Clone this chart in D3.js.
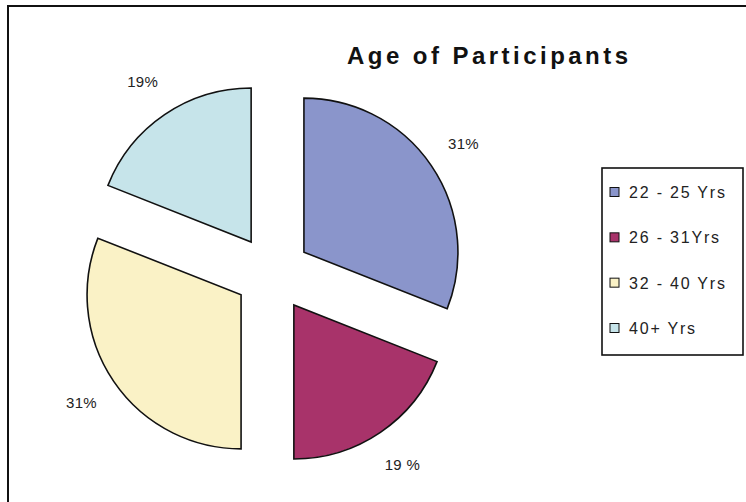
<!DOCTYPE html>
<html>
<head>
<meta charset="utf-8">
<script src="https://cdn.jsdelivr.net/npm/d3@7"></script>
<style>
  html, body { margin: 0; padding: 0; background: #ffffff; }
  svg { display: block; }
</style>
</head>
<body>
<script>
// Age groups and their share of participants (percent)
const categories = ["22 - 25 Yrs", "26 - 31Yrs", "32 - 40 Yrs", "40+ Yrs"];
const values = [31, 19, 31, 19];
const sliceLabels = ["31%", "19 %", "31%", "19%"];
const colors = ["#8a95cb", "#a8336a", "#faf2c6", "#c6e4ea"];
const title = "Age of Participants";

const W = 746, H = 502;
const svg = d3.select("body").append("svg").attr("width", W).attr("height", H);

// chart frame (top and left edges)
svg.append("path")
  .attr("d", "M8,502 L8,6 L746,6")
  .attr("fill", "none").attr("stroke", "#111").attr("stroke-width", 2);

// title
svg.append("text")
  .attr("x", 347).attr("y", 64)
  .attr("textLength", 281).attr("lengthAdjust", "spacing")
  .style("font-family", "'Liberation Sans', Arial, sans-serif")
  .style("font-weight", "bold").style("font-size", "24px")
  .attr("fill", "#111")
  .text(title);

// exploded pie
const cx = 272.5, cy = 273.5, R = 154, explode = 38, labelR = 231;
const pie = d3.pie().sort(null).value(d => d)(values);
const arc = d3.arc().innerRadius(0).outerRadius(R);

const g = svg.append("g").attr("transform", `translate(${cx},${cy})`);
const slices = g.selectAll("g.slice").data(pie).enter().append("g")
  .attr("class", "slice")
  .attr("transform", d => {
    const a = (d.startAngle + d.endAngle) / 2;
    return `translate(${explode * Math.sin(a)},${-explode * Math.cos(a)})`;
  });
slices.append("path")
  .attr("d", arc)
  .attr("fill", (d, i) => colors[i])
  .attr("stroke", "#111").attr("stroke-width", 1.6)
  .attr("stroke-linejoin", "miter");

g.selectAll("text.pct").data(pie).enter().append("text")
  .attr("class", "pct")
  .attr("x", d => labelR * Math.sin((d.startAngle + d.endAngle) / 2))
  .attr("y", d => -labelR * Math.cos((d.startAngle + d.endAngle) / 2) + 5)
  .attr("text-anchor", "middle")
  .style("font-family", "'Liberation Sans', Arial, sans-serif")
  .style("font-size", "15px").style("letter-spacing", "0.3px")
  .attr("fill", "#222")
  .text((d, i) => sliceLabels[i]);

// legend
const lg = svg.append("g");
lg.append("rect")
  .attr("x", 602).attr("y", 168).attr("width", 141).attr("height", 187)
  .attr("fill", "#fff").attr("stroke", "#111").attr("stroke-width", 1.6);
const itemY = d3.scalePoint().domain(categories).range([192, 328]);
const items = lg.selectAll("g.item").data(categories).enter().append("g")
  .attr("class", "item")
  .attr("transform", d => `translate(0,${itemY(d)})`);
items.append("rect")
  .attr("x", 610).attr("y", -4.5).attr("width", 9).attr("height", 9)
  .attr("fill", (d, i) => colors[i]).attr("stroke", "#111").attr("stroke-width", 1);
items.append("text")
  .attr("x", 629).attr("y", 6)
  .style("font-family", "'Liberation Sans', Arial, sans-serif")
  .style("font-size", "16px").style("letter-spacing", "1.8px")
  .attr("fill", "#222")
  .text(d => d);
</script>
</body>
</html>
